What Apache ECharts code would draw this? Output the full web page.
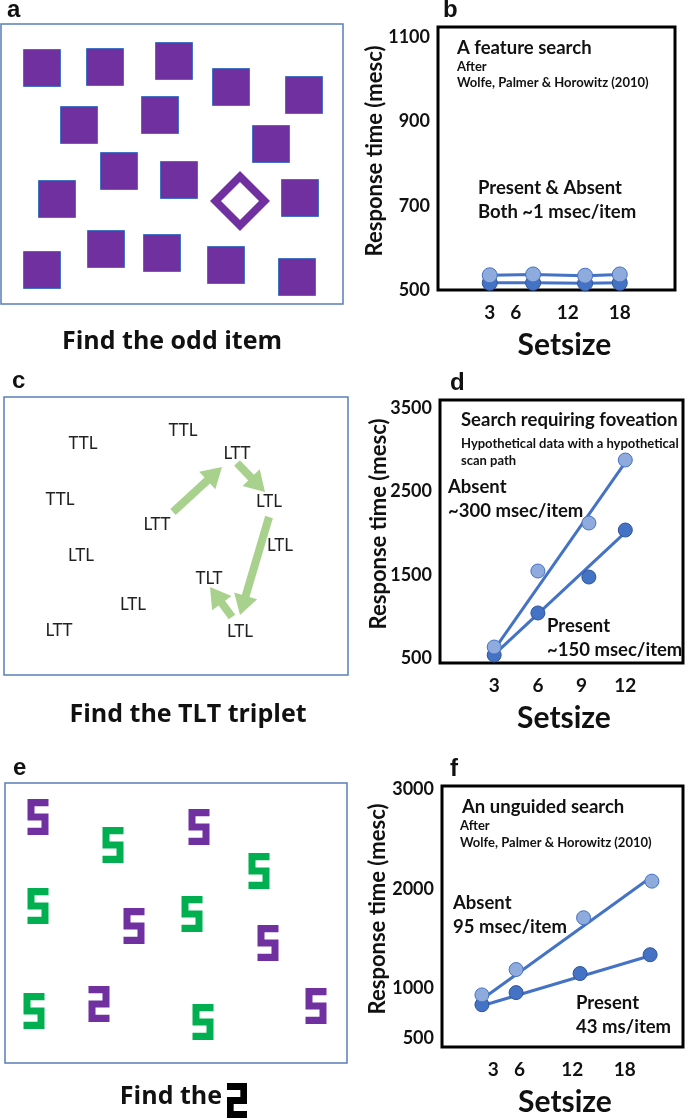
<!DOCTYPE html>
<html><head><meta charset="utf-8">
<script src="https://cdn.jsdelivr.net/npm/echarts@6/dist/echarts.min.js"></script>
<style>html,body{margin:0;padding:0;background:#fff}#c{width:685px;height:1118px}</style>
</head><body><div id="c"></div>
<script>
// ================= DATA =================
// Panel a: feature-search display (item positions inside the display, x from left, y from top)
const aSquares = [[41,44],[104,43],[173,37],[230,63],[303,71],[78,101],[159,91],[270,120],[118,147],[178,156],[56,175],[299,174],[105,225],[161,229],[225,241],[41,246],[296,253]];
const aOddItem = [[239,177]];
// Panel c: triplet display
const cTriplets = [[79,47,'TTL'],[179,34,'TTL'],[233,57,'LTT'],[56,103,'TTL'],[265,105,'LTL'],[153,128,'LTT'],[276,149,'LTL'],[77,159,'LTL'],[205,182,'TLT'],[129,208,'LTL'],[55,234,'LTT'],[236,235,'LTL']];
const cScanPath = [[169,115,218,70],[233,66,261,95],[265,120,236,218],[228,220,206,190]];
// Panel e: unguided-search display
const ePurpleS = [[33,34],[194,44],[129,143],[263,160],[311,223]];
const eGreenS = [[108,62],[254,88],[33,123],[187,131],[29,228],[198,239]];
const eTarget = [[94,221]];

// Panel b: feature search
const bSetsize = [3, 8, 14, 18];
const bAbsent = [535, 537, 534, 537];
const bPresent = [517, 517, 516, 517];
const bXTicks = [3, 6, 12, 18];
const bYTicks = [500, 700, 900, 1100];

// Panel d: search requiring foveation
const dSetsize = [3, 6, 9.5, 12];
const dAbsent = [632, 1545, 2122, 2879];
const dPresent = [536, 1041, 1473, 2038];
const dAbsentFit = [[3, 600], [12, 2850]];
const dPresentFit = [[3, 540], [12, 2010]];
const dXTicks = [3, 6, 9, 12];
const dYTicks = [500, 1500, 2500, 3500];

// Panel f: unguided search
const fAbsentX = [1.7, 5.6, 13.3, 21.1];
const fAbsent = [936, 1191, 1712, 2080];
const fPresentX = [1.7, 5.6, 12.9, 20.9];
const fPresent = [837, 959, 1151, 1340];
const fAbsentFit = [[1.7, 892], [21, 2119]];
const fPresentFit = [[1.8, 830], [20.8, 1327]];
const fXTicks = [3, 6, 12, 18];
const fYTicks = [500, 1000, 2000, 3000];

// ================= STYLE =================
const PURPLE = '#7030A0', GREEN = '#00B050', ARROW = '#A9D18E';
const LIGHT = '#8FAADC', DARK = '#4472C4', DARKER = '#2F5597', LINE = '#4472C4';
const BOX = '#5A7DB5';
const SYM_S = 'path://M0 0H6V2H2V4H6V10H0V8H4V6H0Z';
const SYM_2 = 'path://M0 0H6V6H2V8H6V10H0V4H4V2H0Z';
const SHAPE_2 = [[0,0],[6,0],[6,6],[2,6],[2,8],[6,8],[6,10],[0,10],[0,4],[4,4],[4,2],[0,2]];
const SYM_DIAMOND = 'path://M30 0L60 30L30 60L0 30Z M30 11L11 30L30 49L49 30Z';

const zip = (xs, ys) => xs.map((x, i) => [x, ys[i]]);

const grids = [
  {left:1, top:24, width:342, height:280, show:true, borderColor:BOX, borderWidth:1.5},   // a
  {left:438, top:27, width:237, height:263, show:true, borderColor:'#000', borderWidth:3}, // b
  {left:4, top:397, width:344, height:278, show:true, borderColor:BOX, borderWidth:1.5},  // c
  {left:440, top:400, width:243, height:263, show:true, borderColor:'#000', borderWidth:3},// d
  {left:5, top:783, width:342, height:280, show:true, borderColor:BOX, borderWidth:1.5},  // e
  {left:442, top:786, width:241, height:264, show:true, borderColor:'#000', borderWidth:3} // f
];

function hiddenX(i, max){ return {gridIndex:i, type:'value', min:0, max:max, show:false}; }
function hiddenY(i, max){ return {gridIndex:i, type:'value', min:0, max:max, inverse:true, show:false}; }
const lblX = {fontFamily:'Lato', fontWeight:'bold', fontSize:19, color:'#111', margin:13, formatter:v=>String(v)};
const lblY = {fontFamily:'Lato', fontWeight:'bold', fontSize:18, color:'#111', margin:8, formatter:v=>String(v)};
function chartX(i, min, max, ticks, padLeft){
  return {gridIndex:i, type:'value', min:min, max:max,
    axisLine:{show:false}, axisTick:{show:false}, splitLine:{show:false},
    axisLabel:Object.assign({customValues:ticks}, lblX),
    name:'Setsize', nameLocation:'middle', nameGap:40,
    nameTextStyle:{fontFamily:'Lato', fontWeight:'bold', fontSize:30, color:'#111', padding:[0,0,0,padLeft]}};
}
function chartY(i, min, max, ticks){
  return {gridIndex:i, type:'value', min:min, max:max,
    axisLine:{show:false}, axisTick:{show:false}, splitLine:{show:false},
    axisLabel:Object.assign({customValues:ticks}, lblY)};
}

const xAxes = [hiddenX(0,342), chartX(1,-2.97,24.37,bXTicks,16), hiddenX(2,344), chartX(3,-0.72,15.96,dXTicks,5), hiddenX(4,342), chartX(5,-2.86,24.65,fXTicks,5)];
const yAxes = [hiddenY(0,280), chartY(1,500,1125,bYTicks), hiddenY(2,278), chartY(3,440,3600,dYTicks), hiddenY(4,280), chartY(5,412,3037,fYTicks)];

function pts(idx, data, fill, border, name){
  return {type:'scatter', name:name, xAxisIndex:idx, yAxisIndex:idx, data:data, symbol:'circle', symbolSize:14,
    itemStyle:{color:fill, borderColor:border, borderWidth:1, opacity:1}, z:5};
}
function fit(idx, data){
  return {type:'line', xAxisIndex:idx, yAxisIndex:idx, data:data, symbol:'none',
    lineStyle:{color:LINE, width:3}, z:3};
}
function connected(idx, data, fill, border, name){
  return {type:'line', name:name, xAxisIndex:idx, yAxisIndex:idx, data:data, symbol:'circle', symbolSize:15, showSymbol:true,
    lineStyle:{color:LINE, width:3}, itemStyle:{color:fill, borderColor:border, borderWidth:1, opacity:1}, z:4};
}

function arrowItem(params, api){
  const p1 = api.coord([api.value(0), api.value(1)]);
  const p2 = api.coord([api.value(2), api.value(3)]);
  const dx = p2[0]-p1[0], dy = p2[1]-p1[1];
  const len = Math.sqrt(dx*dx+dy*dy);
  const ux = dx/len, uy = dy/len, nx = -uy, ny = ux;
  const hl = 20, hw = 12, sw = 4;
  const bx = p2[0]-ux*hl, by = p2[1]-uy*hl;
  const P = (x,y)=>[x,y];
  return {type:'polygon', shape:{points:[
    P(p1[0]+nx*sw, p1[1]+ny*sw), P(bx+nx*sw, by+ny*sw), P(bx+nx*hw, by+ny*hw), P(p2[0], p2[1]),
    P(bx-nx*hw, by-ny*hw), P(bx-nx*sw, by-ny*sw), P(p1[0]-nx*sw, p1[1]-ny*sw)]},
    style:{fill:ARROW}};
}

const series = [
  // a
  {type:'scatter', xAxisIndex:0, yAxisIndex:0, data:aSquares, symbol:'rect', symbolSize:37,
   itemStyle:{color:PURPLE, borderColor:'#4472C4', borderWidth:1, opacity:1}},
  {type:'scatter', xAxisIndex:0, yAxisIndex:0, data:aOddItem, symbol:SYM_DIAMOND, symbolSize:60,
   itemStyle:{color:PURPLE, opacity:1}},
  // b
  connected(1, zip(bSetsize, bPresent), DARK, DARKER, 'Present'),
  connected(1, zip(bSetsize, bAbsent), LIGHT, DARK, 'Absent'),
  // c
  {type:'custom', xAxisIndex:2, yAxisIndex:2, data:cScanPath, renderItem:arrowItem, encode:{x:[0,2], y:[1,3]}, z:2},
  {type:'scatter', xAxisIndex:2, yAxisIndex:2, data:cTriplets, symbol:'circle', symbolSize:2,
   itemStyle:{color:'rgba(0,0,0,0)', opacity:1},
   label:{show:true, position:'inside', formatter:p=>p.value[2], fontFamily:'Lato', fontSize:17, color:'#222'}, z:4},
  // d
  fit(3, dAbsentFit), fit(3, dPresentFit),
  pts(3, zip(dSetsize, dPresent), DARK, DARKER, 'Present'),
  pts(3, zip(dSetsize, dAbsent), LIGHT, DARK, 'Absent'),
  // e
  {type:'scatter', xAxisIndex:4, yAxisIndex:4, data:ePurpleS, symbol:SYM_S, symbolSize:[21,36], itemStyle:{color:PURPLE, opacity:1}},
  {type:'scatter', xAxisIndex:4, yAxisIndex:4, data:eGreenS, symbol:SYM_S, symbolSize:[21,36], itemStyle:{color:GREEN, opacity:1}},
  {type:'scatter', xAxisIndex:4, yAxisIndex:4, data:eTarget, symbol:SYM_2, symbolSize:[21,36], itemStyle:{color:PURPLE, opacity:1}},
  // f
  fit(5, fAbsentFit), fit(5, fPresentFit),
  pts(5, zip(fPresentX, fPresent), DARK, DARKER, 'Present'),
  pts(5, zip(fAbsentX, fAbsent), LIGHT, DARK, 'Absent')
];

function T(text, x, y, size, o){
  o = o || {};
  return {type:'text', x:x, y:y, rotation:o.rot||0, z:100,
    style:{text:text, font:(o.weight||'bold')+' '+size+'px '+(o.family||'Lato'), fill:o.fill||'#111',
      align:o.align||'left', verticalAlign:'middle'}};
}
const PL = {family:'"Liberation Sans", Arial, sans-serif'};
const CAP = {family:'"Open Sans"', align:'center'};
// caption glyph: the target shape, 20 x 35 px at (227,1083)
const glyphPts = SHAPE_2.map(p => [227 + p[0]*20/6, 1083 + p[1]*35/10]);
const graphic = [
  T('a', 7, 10, 24, PL), T('b', 443, 10, 24, PL), T('c', 12, 381, 24, PL),
  T('d', 450, 383, 24, PL), T('e', 13, 768, 24, PL), T('f', 450, 769, 24, PL),
  T('Find the odd item', 172, 342, 25, CAP),
  T('Find the TLT triplet', 188, 715, 25, CAP),
  T('Find the', 222, 1097, 25, {family:'"Open Sans"', align:'right'}),
  {type:'polygon', z:100, shape:{points:glyphPts}, style:{fill:'#000'}},
  // b annotations
  T('A feature search', 457, 48, 18.5), T('After', 457, 67, 13), T('Wolfe, Palmer & Horowitz (2010)', 457, 83, 13),
  T('Present & Absent', 478, 188, 18.5), T('Both ~1 msec/item', 478, 212, 18.5),
  T('Response time (mesc)', 375, 151, 22, {rot:Math.PI/2, align:'center'}),
  // d annotations
  T('Search requiring foveation', 461, 420, 18.5), T('Hypothetical data with a hypothetical', 461, 444, 13), T('scan path', 461, 461, 13),
  T('Absent', 448, 487, 18.5), T('~300 msec/item', 448, 511, 18.5),
  T('Present', 547, 626, 18.5), T('~150 msec/item', 547, 650, 18.5),
  T('Response time (mesc)', 379, 524, 22, {rot:Math.PI/2, align:'center'}),
  // f annotations
  T('An unguided search', 462, 807, 18.5), T('After', 460, 826, 13), T('Wolfe, Palmer & Horowitz (2010)', 460, 843, 13),
  T('Absent', 453, 903, 18.5), T('95 msec/item', 453, 927, 18.5),
  T('Present', 576, 1003, 18.5), T('43 ms/item', 576, 1027, 18.5),
  T('Response time (mesc)', 378, 909, 22, {rot:Math.PI/2, align:'center'})
];

const chart = echarts.init(document.getElementById('c'), null, {renderer:'canvas'});
chart.setOption({animation:false, backgroundColor:'#fff', grid:grids, xAxis:xAxes, yAxis:yAxes, series:series, graphic:graphic});
</script></body></html>
